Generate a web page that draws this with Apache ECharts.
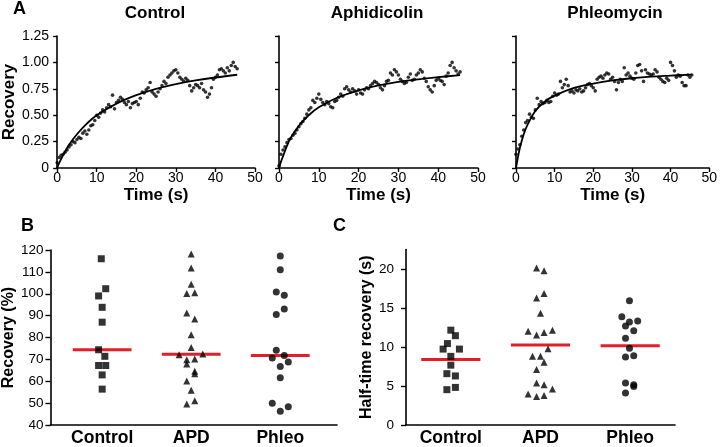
<!DOCTYPE html>
<html>
<head>
<meta charset="utf-8">
<script src="https://cdn.jsdelivr.net/npm/echarts@6/dist/echarts.min.js"></script>
<style>html,body{margin:0;padding:0;background:#fff}#chart{width:720px;height:447px}</style>
</head>
<body>
<div id="chart"></div>
<script>
// ---------- Panel A: FRAP recovery curves ----------
const panelTitles = ['Control', 'Aphidicolin', 'Phleomycin'];
const timeS = [0,0.5,1,1.5,2,2.5,3,3.5,4,4.5,5,5.5,6,6.5,7,7.5,8,8.5,9,9.5,10,10.5,11,11.5,12,12.5,13,13.5,14,14.5,15,15.5,16,16.5,17,17.5,18,18.5,19,19.5,20,20.5,21,21.5,22,22.5,23,23.5,24,24.5,25,25.5,26,26.5,27,27.5,28,28.5,29,29.5,30,30.5,31,31.5,32,32.5,33,33.5,34,34.5,35,35.5,36,36.5,37,37.5,38,38.5,39,39.5,40,40.5,41,41.5,42,42.5,43,43.5,44,44.5,45,45.5];
const controlRec = [0.05,0.10,0.12,0.13,0.15,0.17,0.20,0.22,0.25,0.24,
  0.27,0.29,0.28,0.33,0.35,0.32,0.36,0.40,0.41,0.45,
  0.50,0.48,0.52,0.55,0.53,0.57,0.60,0.58,0.69,0.56,
  0.62,0.64,0.67,0.65,0.62,0.60,0.63,0.57,0.61,0.62,
  0.63,0.60,0.66,0.72,0.71,0.74,0.76,0.81,0.72,0.70,
  0.68,0.72,0.75,0.78,0.82,0.80,0.86,0.88,0.90,0.92,
  0.93,0.90,0.86,0.84,0.82,0.85,0.83,0.78,0.73,0.76,
  0.79,0.78,0.76,0.80,0.74,0.72,0.67,0.70,0.76,0.84,
  0.86,0.88,0.93,0.94,0.92,0.90,0.95,0.92,0.97,1.00,
  0.96,0.94];
const aphidicolinRec = [0.02,0.13,0.17,0.20,0.24,0.27,0.28,0.31,0.33,0.36,
  0.39,0.42,0.44,0.47,0.51,0.55,0.57,0.64,0.62,0.66,
  0.70,0.65,0.62,0.60,0.63,0.61,0.58,0.57,0.63,0.64,
  0.67,0.70,0.68,0.75,0.77,0.74,0.72,0.75,0.73,0.70,
  0.74,0.71,0.70,0.74,0.76,0.75,0.78,0.80,0.82,0.81,
  0.79,0.76,0.74,0.78,0.82,0.83,0.90,0.88,0.93,0.91,
  0.88,0.84,0.82,0.80,0.81,0.86,0.89,0.83,0.84,0.88,
  0.90,0.93,0.91,0.85,0.82,0.77,0.74,0.72,0.78,0.83,
  0.85,0.83,0.82,0.79,0.87,0.90,0.97,1.00,0.95,0.92,
  0.89,0.91];
const phleomycinRec = [0.13,0.18,0.22,0.30,0.36,0.43,0.45,0.51,0.48,0.47,
  0.55,0.66,0.60,0.63,0.61,0.62,0.64,0.62,0.63,0.68,
  0.71,0.69,0.70,0.82,0.76,0.79,0.84,0.78,0.72,0.73,
  0.71,0.74,0.73,0.75,0.72,0.73,0.76,0.79,0.80,0.78,
  0.76,0.73,0.84,0.86,0.87,0.85,0.88,0.90,0.89,0.84,
  0.86,0.82,0.74,0.81,0.84,0.82,0.95,0.88,0.90,0.87,
  0.85,0.84,0.90,0.97,0.98,0.92,0.82,0.93,0.90,0.89,
  0.88,0.89,0.93,0.91,0.86,0.84,0.82,0.81,0.85,0.83,
  1.00,0.97,0.92,0.86,0.88,0.87,0.81,0.78,0.78,0.88,
  0.86,0.88];
// fitted curves
const fitT = [0,0.5,1,2,3,5,7.5,10,15,20,25,30,35,40,45.5];
const controlFit = [0,0.045,0.085,0.155,0.22,0.32,0.42,0.50,0.61,0.69,0.75,0.795,0.83,0.857,0.883];
const aphidicolinFit = [0,0.06,0.11,0.21,0.29,0.40,0.50,0.575,0.672,0.735,0.782,0.815,0.84,0.86,0.88];
const phleomycinFit = [0,0.10,0.19,0.32,0.41,0.54,0.63,0.685,0.758,0.80,0.83,0.85,0.865,0.875,0.885];
const aTimeTicks = [0,10,20,30,40,50];
const aRecTicks = [0,0.25,0.5,0.75,1.0,1.25];

// ---------- Panels B and C: per-cell values ----------
const groups = ['Control', 'APD', 'Phleo'];
const bControlX = [0.99,1.04,0.96,1.00,1.00,0.96,1.03,0.96,1.04,1.00,1.00];
const bControlY = [116,102.3,99,93.8,87,74.4,71.4,67.2,67.2,62.9,56.4];
const bApdX = [2.0,2.0,2.0,1.95,2.04,1.95,2.04,2.0,2.0,1.864,2.13,1.95,2.04,1.95,2.04,2.04,1.95,2.0,2.04,1.95];
const bApdY = [118.2,111.8,104.3,100.1,100.5,91.2,88.5,81.3,75.4,72.1,72.5,69.8,70.2,67.9,64.6,63.4,60.1,55.9,51.1,49.6];
const bPhleoX = [3.0,3.0,2.955,3.045,3.045,2.955,2.955,2.91,3.045,3.09,3.0,3.0,2.91,3.09,3.0];
const bPhleoY = [117.3,111.0,100.8,99.3,93.0,90.5,74.2,70.6,71.8,68.8,66.8,61.6,49.9,48.4,46.3];
const bMedians = [74.4, 72.4, 71.8];
const bTicks = [40,50,60,70,80,90,100,110,120];

const cControlX = [1.0,1.051,0.962,0.914,1.096,1.0,1.0,0.956,1.051,1.051,0.956];
const cControlY = [12.16,11.45,10.44,9.73,9.73,8.8,7.67,6.58,6.29,4.82,4.53];
const cApdX = [1.956,2.04,1.956,2.04,2.0,1.862,1.956,2.04,2.133,2.084,1.911,2.0,2.04,1.956,1.956,2.04,2.133,1.862,1.956,2.04];
const cApdY = [20.13,19.79,16.27,16.86,14.34,12.03,11.53,11.87,12.16,9.77,8.8,8.8,8.05,7.13,5.37,5.16,4.61,3.98,3.65,3.77];
const cPhleoX = [2.992,2.907,2.992,3.084,2.948,3.04,2.948,2.992,2.948,3.04,2.948,3.04,3.04,2.948];
const cPhleoY = [15.93,13.88,13.21,13.33,12.7,12.08,11.11,9.85,8.72,8.89,5.37,5.16,4.95,4.11];
const cMedians = [8.4, 10.27, 10.15];
const cTicks = [0,5,10,15,20];

// ---------- build chart ----------
const FONT = '"Liberation Sans", Arial, Helvetica, sans-serif';
const RED = '#e31e26';
const chart = echarts.init(document.getElementById('chart'), null, {renderer: 'canvas'});

const aGrids = [
  {left: 57, top: 36, width: 198, height: 132},
  {left: 279, top: 36, width: 199, height: 132},
  {left: 516, top: 36, width: 201, height: 132}
];
const gridB = {left: 49, top: 250, width: 288, height: 178};
const gridC = {left: 406, top: 249.5, width: 269, height: 179};

const axisLineStyle = {show: true, lineStyle: {color: '#000', width: 1.6}};
const tickStyle = {show: true, length: 4, lineStyle: {color: '#000', width: 1.4}};

const xAxes = [], yAxes = [], series = [];
const recArrays = [controlRec, aphidicolinRec, phleomycinRec];
const fitArrays = [controlFit, aphidicolinFit, phleomycinFit];

aGrids.forEach((g, i) => {
  xAxes.push({
    gridIndex: i, type: 'value', min: 0, max: 50, interval: 10,
    axisLine: axisLineStyle, axisTick: tickStyle, splitLine: {show: false},
    axisLabel: {fontFamily: FONT, fontSize: 14, color: '#000', margin: 3, showMaxLabel: true,
      customValues: aTimeTicks},
    name: 'Time (s)', nameLocation: 'middle', nameGap: 19,
    nameTextStyle: {fontFamily: FONT, fontSize: 17, fontWeight: 'bold', color: '#000'}
  });
  yAxes.push({
    gridIndex: i, type: 'value', min: 0, max: 1.25, interval: 0.25,
    axisLine: axisLineStyle, axisTick: tickStyle, splitLine: {show: false},
    axisLabel: {show: i === 0, fontFamily: FONT, fontSize: 14, color: '#000', margin: 8,
      customValues: aRecTicks, formatter: v => (v === 0 ? '0' : v.toFixed(2))},
    name: i === 0 ? 'Recovery' : '', nameLocation: 'middle', nameGap: 38, nameRotate: 90,
    nameTextStyle: {fontFamily: FONT, fontSize: 17, fontWeight: 'bold', color: '#000'}
  });
  series.push({
    type: 'scatter', xAxisIndex: i, yAxisIndex: i, symbol: 'circle', symbolSize: 3.6,
    itemStyle: {color: '#000'}, silent: true,
    data: timeS.map((t, k) => [t, recArrays[i][k]])
  });
  series.push({
    type: 'line', xAxisIndex: i, yAxisIndex: i, smooth: 0.4, showSymbol: false,
    lineStyle: {color: '#000', width: 1.8}, silent: true,
    data: fitT.map((t, k) => [t, fitArrays[i][k]])
  });
});

function catAxis(gridIndex, min, max) {
  return {
    gridIndex, type: 'value', min, max,
    axisLine: axisLineStyle, axisTick: {show: false}, splitLine: {show: false},
    axisLabel: {customValues: [1, 2, 3], formatter: v => groups[Math.round(v) - 1],
      fontFamily: FONT, fontSize: 17.5, fontWeight: 'bold', color: '#000', margin: 4}
  };
}
// B
xAxes.push(catAxis(3, 0.419, 3.637));
yAxes.push({
  gridIndex: 3, type: 'value', min: 40, max: 120, interval: 10,
  axisLine: axisLineStyle, axisTick: Object.assign({}, tickStyle, {length: 5}), splitLine: {show: false},
  axisLabel: {fontFamily: FONT, fontSize: 13.5, color: '#000', margin: 7, customValues: bTicks},
  name: 'Recovery (%)', nameLocation: 'middle', nameGap: 31, nameRotate: 90,
  nameTextStyle: {fontFamily: FONT, fontSize: 16, fontWeight: 'bold', color: '#000'}
});
// C
xAxes.push(catAxis(4, 0.5, 3.5));
yAxes.push({
  gridIndex: 4, type: 'value', min: 0, max: 22.5,
  axisLine: axisLineStyle, axisTick: Object.assign({}, tickStyle, {length: 5, customValues: cTicks}), splitLine: {show: false},
  axisLabel: {fontFamily: FONT, fontSize: 13.5, color: '#000', margin: 12, customValues: cTicks},
  name: 'Half-time recovery (s)', nameLocation: 'middle', nameGap: 27, nameRotate: 90,
  nameTextStyle: {fontFamily: FONT, fontSize: 16, fontWeight: 'bold', color: '#000'}
});

function pts(xs, ys) { return xs.map((x, k) => [x, ys[k]]); }
const bSets = [[bControlX, bControlY, 'rect', 7], [bApdX, bApdY, 'triangle', 7], [bPhleoX, bPhleoY, 'circle', 7]];
const cSets = [[cControlX, cControlY, 'rect', 7], [cApdX, cApdY, 'triangle', 7], [cPhleoX, cPhleoY, 'circle', 7]];
const medHalf = 0.33;
[[3, bSets, bMedians], [4, cSets, cMedians]].forEach(([gi, sets, meds]) => {
  sets.forEach(([xs, ys, sym, size], k) => {
    series.push({
      type: 'line', xAxisIndex: gi, yAxisIndex: gi, showSymbol: false, silent: true, z: 1,
      lineStyle: {color: RED, width: 3},
      data: [[k + 1 - medHalf, meds[k]], [k + 1 + medHalf, meds[k]]]
    });
    series.push({
      type: 'scatter', xAxisIndex: gi, yAxisIndex: gi, symbol: sym, symbolSize: size, z: 3,
      itemStyle: {color: '#000'}, silent: true, data: pts(xs, ys)
    });
  });
});

const graphics = [
  {type: 'text', x: 13, y: 9, style: {text: 'A', font: 'bold 18px ' + FONT, fill: '#000', textVerticalAlign: 'middle'}},
  {type: 'text', x: 21, y: 226, style: {text: 'B', font: 'bold 18px ' + FONT, fill: '#000', textVerticalAlign: 'middle'}},
  {type: 'text', x: 333, y: 226, style: {text: 'C', font: 'bold 18px ' + FONT, fill: '#000', textVerticalAlign: 'middle'}}
];
const titleX = [155, 377, 615];
panelTitles.forEach((t, i) => graphics.push({
  type: 'text', x: titleX[i], y: 13,
  style: {text: t, font: 'bold 17px ' + FONT, fill: '#000', textAlign: 'center', textVerticalAlign: 'middle'}
}));

chart.setOption({
  animation: false,
  backgroundColor: '#fff',
  grid: aGrids.concat([gridB, gridC]),
  xAxis: xAxes,
  yAxis: yAxes,
  series,
  graphic: graphics
});
</script>
</body>
</html>
